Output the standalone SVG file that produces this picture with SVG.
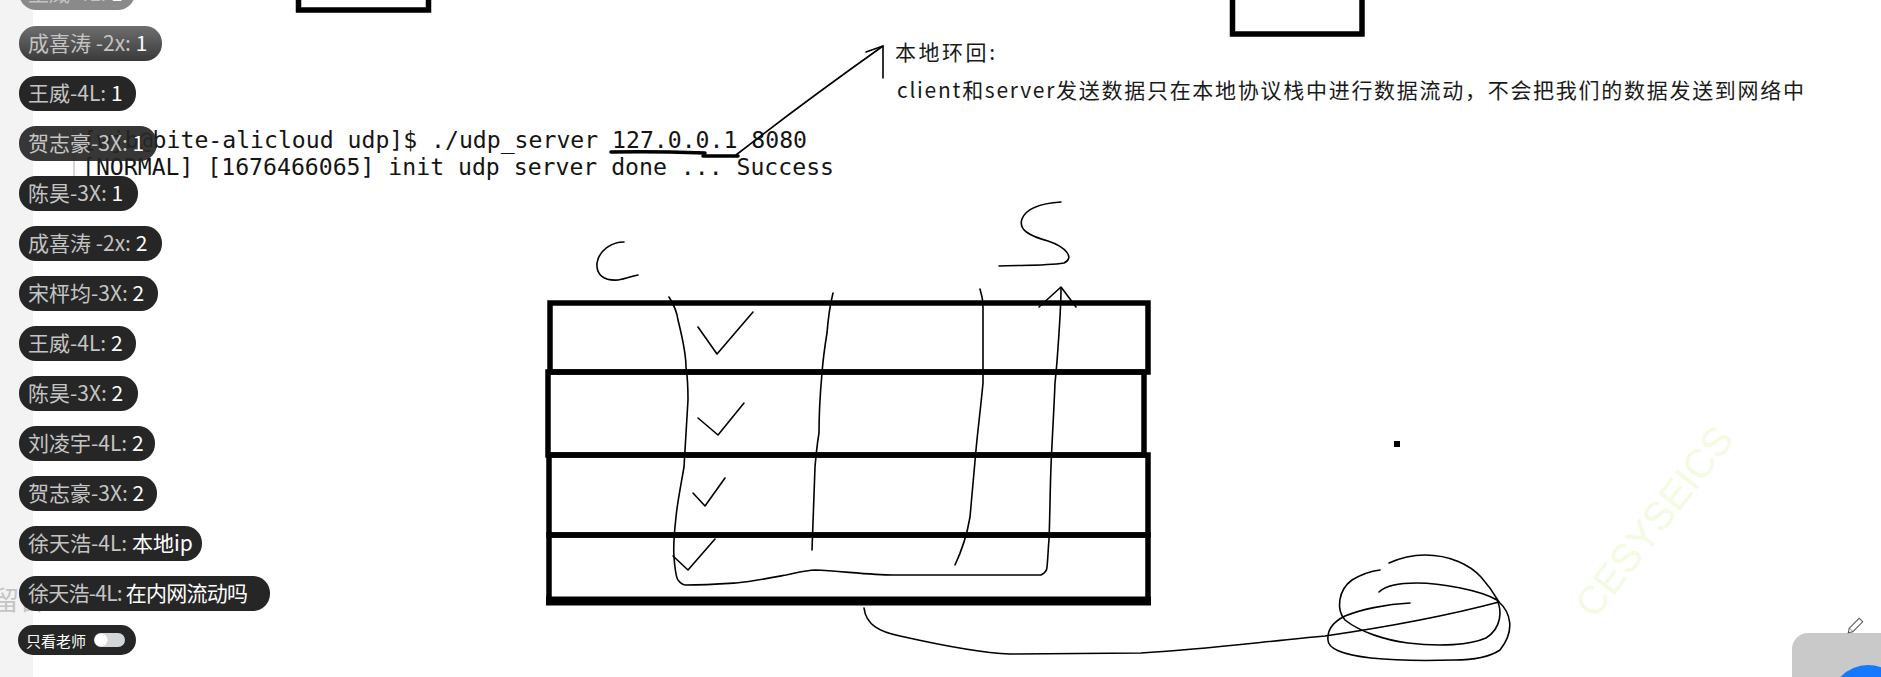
<svg xmlns="http://www.w3.org/2000/svg" width="1881" height="677" viewBox="0 0 1881 677">
  <style>
    .pill { fill: #262626; }
    .pt { font-family: "Noto Sans CJK SC", "Noto Sans", sans-serif; font-size: 21px; }
    .nm { fill: #c4c4c4; }
    .msg { fill: #ffffff; }
    .term { font-family: "DejaVu Sans Mono", "Liberation Mono", monospace; font-size: 23px; fill: #141414; }
    .note { font-family: "Noto Sans CJK SC", "Noto Sans", sans-serif; font-size: 21px; fill: #1a1a1a; }
    .ink { fill: none; stroke: #000; stroke-width: 1.6; stroke-linecap: round; stroke-linejoin: round; }
    .box { fill: none; stroke: #000; stroke-width: 5.5; }
  </style>
  <defs>
    <linearGradient id="fade" x1="0" y1="0" x2="0" y2="1">
      <stop offset="0" stop-color="#6e6e6e"/>
      <stop offset="1" stop-color="#3a3a3a"/>
    </linearGradient>
  </defs>

  <rect width="1881" height="677" fill="#ffffff"/>

  <!-- sidebar strip -->
  <rect x="0" y="0" width="33" height="677" fill="#f3f3f3"/>

  <!-- terminal output -->
  <g id="terminal">
    <line x1="74" y1="128" x2="74" y2="176" stroke="#c8c8c8" stroke-width="1.5"/>
    <text class="term" x="83" y="148" textLength="724" lengthAdjust="spacingAndGlyphs">[wjb@bite-alicloud udp]$ ./udp_server 127.0.0.1 8080</text>
    <text class="term" x="82" y="175" textLength="752" lengthAdjust="spacingAndGlyphs">[NORMAL] [1676466065] init udp server done ... Success</text>
    <path d="M611,152 Q650,151 705,153 M703,156 L738,156" fill="none" stroke="#000" stroke-width="3.5" stroke-linecap="round"/>
  </g>

  <!-- faint label behind the chat pills -->
  <text x="-7" y="610" font-family="Noto Sans CJK SC, sans-serif" font-size="26" fill="#c4c4c4">留言</text>

  <!-- chat pills -->
  <g id="chat">
    <g id="pill0"><rect x="19" y="-25" width="116" height="35" rx="17" fill="#8a8a8a"/><text class="pt" x="28" y="1"><tspan class="nm">王威-4L:</tspan><tspan class="msg"> 1</tspan></text></g>
    <g id="pill1"><rect x="19" y="26" width="143" height="35" rx="17" fill="url(#fade)"/><text class="pt" x="28" y="51"><tspan class="nm">成喜涛 -2x:</tspan><tspan class="msg"> 1</tspan></text></g>
    <g id="pill2"><rect x="19" y="76" width="117" height="35" rx="17" class="pill"/><text class="pt" x="28" y="101"><tspan class="nm">王威-4L:</tspan><tspan class="msg"> 1</tspan></text></g>
    <g id="pill3"><rect x="19" y="126" width="138" height="35" rx="17" class="pill" opacity="0.92"/><text class="pt" x="28" y="151"><tspan class="nm">贺志豪-3X:</tspan><tspan class="msg"> 1</tspan></text></g>
    <g id="pill4"><rect x="19" y="176" width="119" height="35" rx="17" class="pill"/><text class="pt" x="28" y="201"><tspan class="nm">陈昊-3X:</tspan><tspan class="msg"> 1</tspan></text></g>
    <g id="pill5"><rect x="19" y="226" width="143" height="35" rx="17" class="pill"/><text class="pt" x="28" y="251"><tspan class="nm">成喜涛 -2x:</tspan><tspan class="msg"> 2</tspan></text></g>
    <g id="pill6"><rect x="19" y="276" width="139" height="35" rx="17" class="pill"/><text class="pt" x="28" y="301"><tspan class="nm">宋枰均-3X:</tspan><tspan class="msg"> 2</tspan></text></g>
    <g id="pill7"><rect x="19" y="326" width="117" height="35" rx="17" class="pill"/><text class="pt" x="28" y="351"><tspan class="nm">王威-4L:</tspan><tspan class="msg"> 2</tspan></text></g>
    <g id="pill8"><rect x="19" y="376" width="119" height="35" rx="17" class="pill"/><text class="pt" x="28" y="401"><tspan class="nm">陈昊-3X:</tspan><tspan class="msg"> 2</tspan></text></g>
    <g id="pill9"><rect x="19" y="426" width="136" height="35" rx="17" class="pill"/><text class="pt" x="28" y="451"><tspan class="nm">刘凌宇-4L:</tspan><tspan class="msg"> 2</tspan></text></g>
    <g id="pill10"><rect x="19" y="476" width="138" height="35" rx="17" class="pill"/><text class="pt" x="28" y="501"><tspan class="nm">贺志豪-3X:</tspan><tspan class="msg"> 2</tspan></text></g>
    <g id="pill11"><rect x="19" y="526" width="183" height="35" rx="17" class="pill"/><text class="pt" x="28" y="551"><tspan class="nm">徐天浩-4L:</tspan><tspan class="msg"> 本地ip</tspan></text></g>
    <g id="pill12"><rect x="19" y="576" width="251" height="35" rx="17" class="pill"/><text class="pt" x="28" y="601" textLength="220"><tspan class="nm">徐天浩-4L:</tspan><tspan class="msg"> 在内网流动吗</tspan></text></g>
    <g id="pill13">
      <rect x="18" y="625" width="118" height="30" rx="15" class="pill"/>
      <text x="26" y="647" font-family="Noto Sans CJK SC, sans-serif" font-size="15" fill="#ffffff">只看老师</text>
      <rect x="94" y="633" width="31" height="14" rx="7" fill="#d2d5da"/>
      <circle cx="101" cy="640" r="6.5" fill="#ffffff"/>
    </g>
  </g>

  <!-- top boxes (cut off) -->
  <g id="box-top-left"><rect class="box" x="298.5" y="-20" width="130" height="30"/></g>
  <g id="box-top-right"><rect class="box" x="1232.5" y="-20" width="129.5" height="54"/></g>

  <!-- annotation -->
  <g id="note">
    <text class="note" x="895" y="60" textLength="100">本地环回:</text>
    <text class="note" x="897" y="98" textLength="907">client和server发送数据只在本地协议栈中进行数据流动，不会把我们的数据发送到网络中</text>
  </g>

  <!-- connectors -->
  <g id="connectors">
    <path class="ink" d="M736,155 Q800,105 883,46" stroke-width="1.2"/>
    <path class="ink" d="M866,52 L883,46 L883,78" stroke-width="1.2"/>
  </g>

  <!-- protocol stack table -->
  <g id="stack">
    <rect class="box" x="550" y="303" width="598" height="69"/>
    <rect class="box" x="548" y="372" width="596" height="83"/>
    <rect class="box" x="549" y="455" width="599" height="80"/>
    <rect class="box" x="549" y="535" width="599" height="66"/>
    <line x1="546" y1="601" x2="1151" y2="601" stroke="#000" stroke-width="9"/>
  </g>

  <!-- hand drawn strokes -->
  <g id="sketch">
    <path class="ink" d="M624,242 C612,242 599,250 597,263 C596,275 604,281 618,280 C626,279 632,276 638,275"/>
    <path class="ink" d="M1061,202 C1045,203 1027,206 1022,219 C1018,230 1030,236 1048,241 C1066,247 1075,258 1064,263 C1045,266 1020,265 999,266"/>
    <path class="ink" d="M669,297 C674,305 677,312 678,320 C683,340 686,355 686,367 C688,380 688,392 688,400 C686,430 685,450 684,467 C680,490 677,505 676,517 C674,535 673,545 674,557 C675,570 676,577 678,580 C681,584 684,585 686,585 C705,585 720,584 736,583 C755,581 770,578 786,575 C800,572 808,570 815,570 C840,571 870,575 893,575 L1041,575 C1045,573 1047,570 1047,567 C1048,558 1048,550 1049,540 C1050,515 1050,490 1051,467 C1052,440 1054,410 1055,383 C1057,365 1058,348 1059,333 C1060,318 1061,302 1061,288"/>
    <path class="ink" d="M1039,307 L1061,287 L1076,307"/>
    <path class="ink" d="M833,293 C830,305 828,320 827,333 C825,345 823,360 822,373 C820,395 819,415 819,433 C817,445 816,455 815,467 C814,495 813,525 812,550"/>
    <path class="ink" d="M980,289 C982,295 983,300 983,307 L983,383 C981,405 978,428 976,450 C974,472 972,495 970,517 C967,535 962,550 955,565"/>
    <path class="ink" d="M698,327 L717,354 L753,312"/>
    <path class="ink" d="M698,418 L718,435 L744,403"/>
    <path class="ink" d="M693,493 L705,506 L725,478"/>
    <path class="ink" d="M673,556 L688,570 L715,539"/>
    <path class="ink" d="M864,608 C866,625 880,632 900,636 C940,645 980,653 1010,654 L1141,653 C1200,650 1260,642 1325,636 C1380,628 1450,615 1499,602 C1510,612 1516,630 1500,650 C1488,658 1470,660 1454,660 C1420,661 1390,660 1371,658 C1345,655 1328,650 1328,640 C1327,630 1333,622 1345,616 C1360,610 1385,604 1410,603"/>
    <path class="ink" d="M1379,592 C1385,586 1400,583 1417,583 C1440,583 1480,590 1497,600 C1502,610 1502,628 1486,638 C1470,645 1440,647 1408,643 C1385,640 1360,632 1345,620 C1336,610 1338,590 1352,580 C1362,574 1372,571 1380,570 M1389,563 C1400,558 1410,555 1425,555 C1450,555 1470,565 1481,577 C1490,587 1495,595 1499,602"/>
    <rect x="1394" y="441" width="6" height="6" fill="#000"/>
  </g>

  <!-- watermark -->
  <text x="0" y="0" transform="translate(1665,530) rotate(-52)" text-anchor="middle" font-family="Liberation Sans, sans-serif" font-size="40" fill="#f3fbe2">CESYSEICS</text>

  <!-- bottom-right widget -->
  <g id="widget">
    <rect x="1792" y="633" width="120" height="80" rx="16" fill="#c9c9c9"/>
    <circle cx="1868" cy="703" r="38" fill="#1677ff"/>
    <g transform="translate(1856,625) rotate(-45)">
      <rect x="-7" y="-2.5" width="14" height="5" fill="#ffffff" stroke="#555" stroke-width="1"/>
      <path d="M-7,-2.5 L-11,0 L-7,2.5" fill="#ffffff" stroke="#555" stroke-width="1"/>
    </g>
  </g>
</svg>
